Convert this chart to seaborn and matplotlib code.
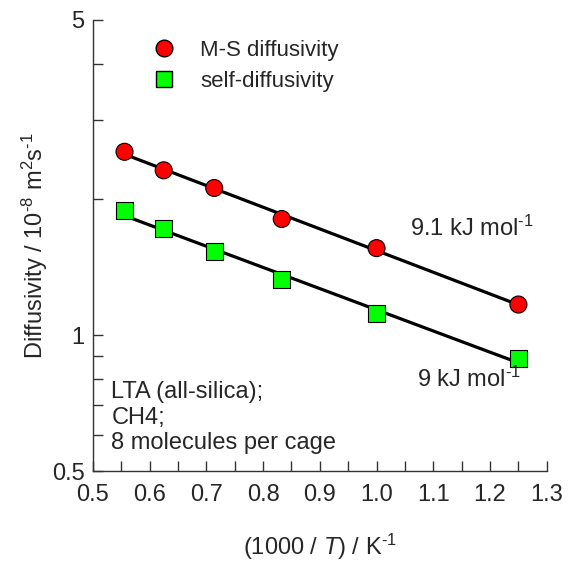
import numpy as np
import pandas as pd
import matplotlib
matplotlib.use("Agg")
import matplotlib.pyplot as plt
import seaborn as sns
from matplotlib.ticker import FixedLocator, NullFormatter, MultipleLocator
from matplotlib.lines import Line2D

sns.set_style("ticks")
plt.rcParams['font.family'] = ['Liberation Sans', 'DejaVu Sans']
plt.rcParams['mathtext.fontset'] = 'custom'
plt.rcParams['mathtext.rm'] = 'Liberation Sans'
plt.rcParams['mathtext.it'] = 'Liberation Sans:italic'

inv_T = [0.556, 0.625, 0.714, 0.833, 1.0, 1.25]
ms_diff = [2.55, 2.32, 2.12, 1.81, 1.56, 1.17]
self_diff = [1.89, 1.72, 1.53, 1.33, 1.12, 0.89]
series_names = ["M-S diffusivity", "self-diffusivity"]
x_ticks = [0.5, 0.6, 0.7, 0.8, 0.9, 1.0, 1.1, 1.2, 1.3]
y_ticks = [0.5, 1, 5]
y_tick_labels = ["0.5", "1", "5"]

df = pd.DataFrame({
    "x": inv_T * 2,
    "y": ms_diff + self_diff,
    "series": [series_names[0]] * len(inv_T) + [series_names[1]] * len(inv_T),
})

fits = []
for name, vals in zip(series_names, [ms_diff, self_diff]):
    p = np.polyfit(inv_T, np.log(vals), 1)
    xs = np.array([inv_T[0], inv_T[-1]])
    fits.append(pd.DataFrame({"x": xs, "y": np.exp(np.polyval(p, xs)), "series": name}))
fit_df = pd.concat(fits)

fig = plt.figure(figsize=(5.69, 5.65), dpi=100)
ax = fig.add_axes([0.163, 0.166, 0.798, 0.799])

for name in series_names:
    sub = fit_df[fit_df.series == name]
    sns.lineplot(data=sub, x="x", y="y", color="black", linewidth=2.3, ax=ax, legend=False, zorder=2)

sns.scatterplot(data=df, x="x", y="y", hue="series", style="series",
                markers={series_names[0]: "o", series_names[1]: "s"},
                palette={series_names[0]: "#ff0000", series_names[1]: "#00ff00"},
                s=150, edgecolor="black", linewidth=0.8, ax=ax, zorder=3, legend=False)

ax.set_yscale("log")
ax.set_xlim(0.5, 1.3)
ax.set_ylim(0.5, 5)
ax.yaxis.set_major_locator(FixedLocator(y_ticks))
ax.yaxis.set_minor_locator(FixedLocator([0.6, 0.7, 0.8, 0.9, 2, 3, 4]))
ax.yaxis.set_minor_formatter(NullFormatter())
ax.set_yticklabels(y_tick_labels)
ax.xaxis.set_minor_locator(MultipleLocator(0.05))
ax.set_xticks(x_ticks)
ax.set_xticklabels([f"{v:.1f}" for v in x_ticks])
ax.tick_params(axis="both", which="both", direction="in", length=7, width=1, labelsize=17, color="#333333")
ax.tick_params(axis="x", pad=9)
ax.tick_params(axis="y", pad=6)
sns.despine(ax=ax)
for sp in ["left", "bottom"]:
    ax.spines[sp].set_linewidth(1)
    ax.spines[sp].set_color("#333333")

ax.set_xlabel("(1000 / $\\mathit{T}$) / K$^{\\text{-}1}$", fontsize=17, labelpad=19)
ax.set_ylabel("Diffusivity / 10$^{\\text{-}8}$ m$^{2}$s$^{\\text{-}1}$", fontsize=17, labelpad=1)

handles = [Line2D([], [], marker="o", color="none", markerfacecolor="#ff0000", markeredgecolor="black", markersize=12),
           Line2D([], [], marker="s", color="none", markerfacecolor="#00ff00", markeredgecolor="black", markersize=11)]
ax.legend(handles, series_names, loc="upper left", bbox_to_anchor=(0.065, 1.0), frameon=False,
          fontsize=16, handletextpad=0.6, labelspacing=0.45)

ax.text(1.059, 1.73, "9.1 kJ mol$^{\\text{-}1}$", fontsize=17, ha="left", va="center")
ax.text(1.071, 0.80, "9 kJ mol$^{\\text{-}1}$", fontsize=17, ha="left", va="center")
ax.text(0.533, 0.545, "LTA (all-silica);\nCH4;\n8 molecules per cage", fontsize=17,
        ha="left", va="bottom", linespacing=1.22)

fig.savefig("out.png", dpi=100)
